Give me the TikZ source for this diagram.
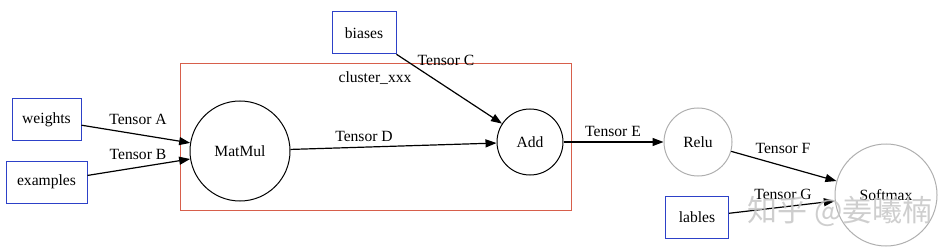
\documentclass[tikz,border=0pt]{standalone}
\usepackage{fontspec}
\setmainfont{Liberation Serif}
\newfontfamily\cjkfont{Noto Sans CJK SC}
\usetikzlibrary{arrows.meta}
\definecolor{boxblue}{RGB}{45,65,200}
\definecolor{clusterred}{RGB}{215,95,75}
\definecolor{circgray}{RGB}{175,175,175}
\begin{document}
\begin{tikzpicture}[x=1pt,y=-1pt,
  every node/.style={font=\fontsize{15.6}{18}\selectfont},
  srcbox/.style={draw=boxblue,line width=1pt,rectangle,inner sep=0pt,minimum height=42pt},
  opcirc/.style={draw=black,line width=1pt,circle,inner sep=0pt},
  graycirc/.style={draw=circgray,line width=1pt,circle,inner sep=0pt},
  edge/.style={draw=black,line width=1.2pt,-{Triangle[length=11pt,width=8pt]}},
  elabel/.style={inner sep=1pt}]
\useasboundingbox (0,0) rectangle (941,251);
% cluster
\draw[clusterred,line width=1pt] (180,64) rectangle (571,210);
\node (cl) at (375,78) {cluster\_xxx};
% nodes
\node[srcbox,minimum width=69pt] (weights) at (46.5,119.5) {weights};
\node[srcbox,minimum width=81pt] (examples) at (46.5,182) {examples};
\node[srcbox,minimum width=64pt] (biases) at (364,33) {biases};
\node[srcbox,minimum width=63pt] (lables) at (697,217) {lables};
\node[opcirc,minimum size=100pt] (matmul) at (240,151) {MatMul};
\node[opcirc,minimum size=66pt] (add) at (530,142) {Add};
\node[graycirc,minimum size=68pt] (relu) at (698,142) {Relu};
\node[graycirc,minimum size=102pt] (softmax) at (886,195) {Softmax};
% edges
\draw[edge] (weights) -- (matmul);
\draw[edge] (examples) -- (matmul);
\draw[edge] (biases) -- (add);
\draw[edge] (matmul) -- (add);
\draw[edge] (add) -- (relu);
\draw[edge] (relu) -- (softmax);
\draw[edge] (lables) -- (softmax);
% edge labels
\node[elabel] (la) at (138,119) {Tensor A};
\node[elabel] (lb) at (138,154) {Tensor B};
\node[elabel] (lc) at (446,60) {Tensor C};
\node[elabel] (ld) at (364,136) {Tensor D};
\node[elabel] (le) at (613,131) {Tensor E};
\node[elabel] (lf) at (783,148) {Tensor F};
\node[elabel] (lg) at (783,194) {Tensor G};
% watermark
\node[text=gray!45,opacity=0.85,font=\cjkfont\fontsize{30}{32}\selectfont] (wm) at (840,211) {知乎\ @姜曦楠};
\end{tikzpicture}
\end{document}
